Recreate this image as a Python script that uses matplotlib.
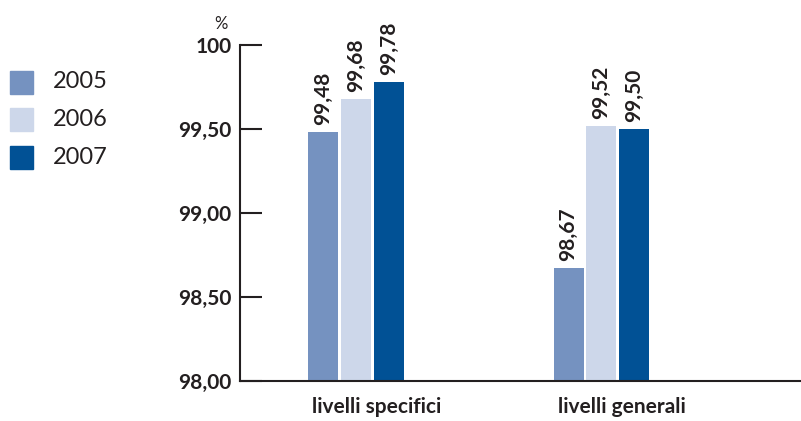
import matplotlib
matplotlib.use("Agg")
import matplotlib.pyplot as plt
import numpy as np

categories = ["livelli specifici", "livelli generali"]
years = ["2005", "2006", "2007"]
values_2005 = [99.48, 98.67]
values_2006 = [99.68, 99.52]
values_2007 = [99.78, 99.50]
series = [values_2005, values_2006, values_2007]
colors = ["#7592c0", "#cdd7ea", "#015195"]
yticks = [98.0, 98.5, 99.0, 99.5, 100.0]
ytick_labels = ["98,00", "98,50", "99,00", "99,50", "100"]

plt.rcParams["font.family"] = ["Lato", "DejaVu Sans"]
text_color = "#231f20"

fig = plt.figure(figsize=(8.01, 4.21), dpi=100)
ax = fig.add_axes([240 / 801, 40 / 421, 560 / 801, 336 / 421])

x = np.arange(len(categories))
width = 0.122
step = 0.134
for i, (vals, col) in enumerate(zip(series, colors)):
    pos = x + (i - 1) * step
    ax.bar(pos, [v - 98.0 for v in vals], width=width, bottom=98.0,
           color=col, edgecolor="none", zorder=2)
    for px, v in zip(pos, vals):
        ax.annotate(f"{v:.2f}".replace(".", ","), (px, v),
                    xytext=(0, 5), textcoords="offset points",
                    rotation=90, ha="center", va="bottom",
                    fontsize=15, fontweight="bold", color=text_color)

ax.set_xlim(-0.4725, 1.809)
ax.set_ylim(98.0, 100.0)
ax.set_yticks(yticks)
ax.set_yticklabels(ytick_labels, fontsize=15, fontweight="bold", color=text_color)
ax.set_xticks([])

# category names start just right of each group's first bar
for xc, name in zip(x, categories):
    ax.annotate(name, (xc - step - width / 2, 0), xycoords=("data", "axes fraction"),
                xytext=(3, -23), textcoords="offset points",
                ha="left", va="baseline", fontsize=15, fontweight="bold",
                color=text_color)

ax.tick_params(axis="y", direction="in", length=16, width=1.5, color=text_color, pad=6)
for s in ["top", "right"]:
    ax.spines[s].set_visible(False)
for s in ["left", "bottom"]:
    ax.spines[s].set_linewidth(1.5)
    ax.spines[s].set_color(text_color)

fig.text(221 / 801, 1 - 24 / 421, "%", fontsize=12, color=text_color,
         ha="center", va="center")

# legend drawn as swatches and labels in figure space
legend_y = [82, 119, 157]
for yy, col, lab in zip(legend_y, colors, years):
    fig.patches.append(plt.Rectangle((10 / 801, 1 - (yy + 11.5) / 421),
                                     23 / 801, 23 / 421,
                                     transform=fig.transFigure, color=col))
    fig.text(53 / 801, 1 - yy / 421, lab, fontsize=17, color=text_color,
             ha="left", va="center")

fig.savefig("out.png", dpi=100)
